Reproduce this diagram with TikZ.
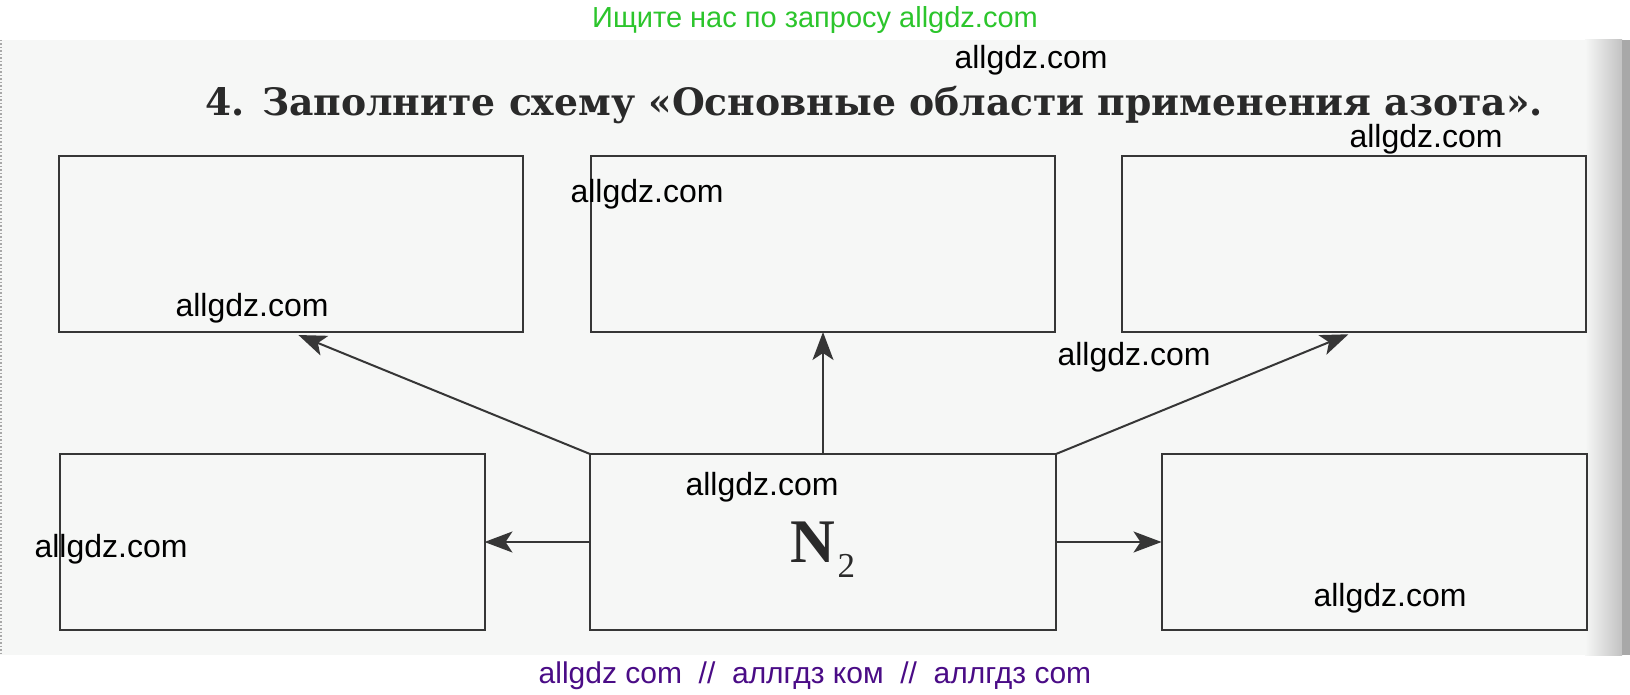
\documentclass[tikz,border=0pt]{standalone}
\usepackage{fontspec}
\setmainfont{Liberation Sans}
\newfontfamily\titlefont{DejaVu Serif}
\newfontfamily\formulafont{Liberation Serif}
\usetikzlibrary{arrows.meta, positioning, calc}
\definecolor{linegrey}{HTML}{363636}
\definecolor{inkgrey}{HTML}{2A2A2A}
\definecolor{pagegrey}{HTML}{F6F7F6}
\definecolor{edgegrey}{HTML}{A8A8A8}
\definecolor{sitegreen}{HTML}{2CC52C}
\definecolor{sitepurple}{HTML}{4A0C86}

\begin{document}
\begin{tikzpicture}[
  x=1pt, y=-1pt,
  box/.style={rectangle, draw=linegrey, line width=2pt, minimum width=464pt, minimum height=176pt, inner sep=0pt, outer sep=0pt},
  sidebox/.style={box, minimum width=425pt},
  arrow/.style={-{Stealth[length=28pt, width=21pt, inset=7pt]}, draw=linegrey, line width=2pt},
  wmark/.style={font=\fontsize{32}{32}\selectfont, text=black, inner sep=0pt},
  banner/.style={font=\fontsize{29}{29}\selectfont, inner sep=0pt}
]
  \useasboundingbox (0,0) rectangle (1630,695);

  % Page
  \fill[pagegrey] (0,40) rectangle (1630,655);
  \shade[left color=pagegrey, right color=edgegrey!70] (1585,40) rectangle (1622,655);
  \fill[edgegrey] (1622,40) rectangle (1630,655);
  \draw[edgegrey, dotted, line width=1.5pt] (1,40) -- (1,655);

  % Banners
  \node[banner, text=sitegreen] (search) at (815,20) {Ищите нас по запросу allgdz.com};
  \node[banner, text=sitepurple, font=\fontsize{30}{30}\selectfont] (footer) at (815,676) {allgdz com \ // \ аллгдз ком \ // \ аллгдз com};

  % Task
  \node[anchor=base west, inner sep=0pt, text=inkgrey, font=\titlefont\bfseries\fontsize{37.7}{38}\selectfont] (task) at (205,116) {4. Заполните схему «Основные области применения азота».};

  % Top row
  \node[box] (topleft) at (291,244) {};
  \node[box] (topmid) at (823,244) {};
  \node[box] (topright) at (1354,244) {};

  % Bottom row
  \node[sidebox] (botleft) at (272,542) {};
  \node[box, minimum width=466pt, text=inkgrey, text depth=0pt] (nitro) at (823,542) {{\formulafont\bfseries\fontsize{62}{62}\selectfont N}\kern2pt\raisebox{-15pt}{\formulafont\fontsize{35}{35}\selectfont 2}};
  \node[sidebox] (botright) at (1374,542) {};

  % Arrows
  \draw[arrow, shorten >=8pt] (nitro.north west) -- (topleft.south);
  \draw[arrow] (nitro.north) -- (topmid.south);
  \draw[arrow, shorten >=6pt] (nitro.north east) -- (topright.south);
  \draw[arrow] (nitro.west) -- (botleft.east);
  \draw[arrow] (nitro.east) -- (botright.west);

  % Watermarks
  \node[wmark] (wm1) at (1031,60) {allgdz.com};
  \node[wmark] (wm2) at (1426,139) {allgdz.com};
  \node[wmark] (wm3) at (647,194) {allgdz.com};
  \node[wmark] (wm4) at (252,308) {allgdz.com};
  \node[wmark] (wm5) at (1134,357) {allgdz.com};
  \node[wmark] (wm6) at (762,487) {allgdz.com};
  \node[wmark] (wm7) at (111,549) {allgdz.com};
  \node[wmark] (wm8) at (1390,598) {allgdz.com};
\end{tikzpicture}
\end{document}
